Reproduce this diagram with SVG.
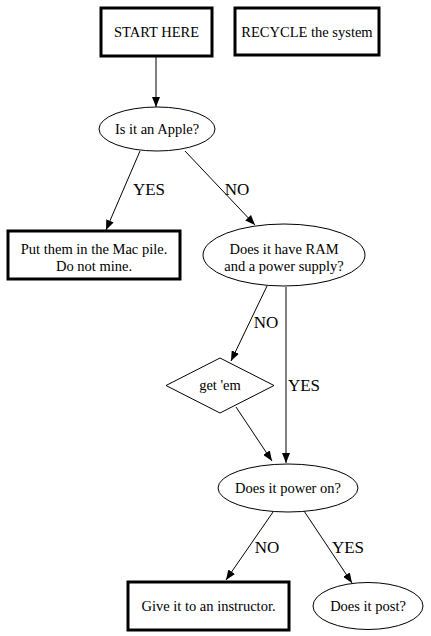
<svg xmlns="http://www.w3.org/2000/svg" width="431" height="636" viewBox="0 0 431 636">
<style>
text{font-family:'Liberation Serif','Times New Roman',serif;fill:#000;text-anchor:middle}
.n{font-size:14.5px}
.l{font-size:17px}
.box{fill:#fff;stroke:#000;stroke-width:3}
.shape{fill:#fff;stroke:#000;stroke-width:1}
.e{fill:none;stroke:#000;stroke-width:1}
</style>
<defs>
<marker id="a" markerWidth="10" markerHeight="8" refX="10" refY="4" orient="auto" markerUnits="userSpaceOnUse">
<path d="M0,0 L10,4 L0,8 Z" fill="#000"/>
</marker>
</defs>
<rect width="431" height="636" fill="#fff"/>
<g id="connectors">
<line class="e" x1="156" y1="57" x2="156" y2="107" marker-end="url(#a)"/>
<line class="e" x1="140" y1="151" x2="106" y2="230" marker-end="url(#a)"/>
<line class="e" x1="185" y1="151" x2="255" y2="225" marker-end="url(#a)"/>
<line class="e" x1="267" y1="286" x2="231" y2="361" marker-end="url(#a)"/>
<line class="e" x1="286" y1="287" x2="286" y2="463" marker-end="url(#a)"/>
<line class="e" x1="236" y1="407" x2="272" y2="461" marker-end="url(#a)"/>
<line class="e" x1="273" y1="512" x2="226" y2="580" marker-end="url(#a)"/>
<line class="e" x1="304" y1="511" x2="352" y2="583" marker-end="url(#a)"/>
<text class="l" x="149" y="195">YES</text>
<text class="l" x="237" y="195">NO</text>
<text class="l" x="266" y="328">NO</text>
<text class="l" x="304" y="391">YES</text>
<text class="l" x="267" y="553">NO</text>
<text class="l" x="348" y="553">YES</text>
</g>
<g id="start">
<rect class="box" x="101" y="8" width="111" height="48"/>
<text class="n" x="156.5" y="37">START HERE</text>
</g>
<g id="recycle">
<rect class="box" x="235" y="8" width="144" height="47"/>
<text class="n" x="307" y="37">RECYCLE the system</text>
</g>
<g id="apple">
<ellipse class="shape" cx="157" cy="129" rx="58" ry="22"/>
<text class="n" x="157" y="134">Is it an Apple?</text>
</g>
<g id="macpile">
<rect class="box" x="8" y="231" width="172" height="48"/>
<text class="n" x="94" y="254">Put them in the Mac pile.</text>
<text class="n" x="94" y="271">Do not mine.</text>
</g>
<g id="ram">
<ellipse class="shape" cx="284" cy="255" rx="81" ry="31"/>
<text class="n" x="284" y="254">Does it have RAM</text>
<text class="n" x="284" y="271">and a power supply?</text>
</g>
<g id="getem">
<polygon class="shape" points="220,358 274,385.5 220,413 166,385.5"/>
<text class="n" x="220" y="390">get 'em</text>
</g>
<g id="poweron">
<ellipse class="shape" cx="288" cy="488" rx="70" ry="24"/>
<text class="n" x="288" y="493">Does it power on?</text>
</g>
<g id="instructor">
<rect class="box" x="128" y="582" width="161" height="48"/>
<text class="n" x="208.5" y="611">Give it to an instructor.</text>
</g>
<g id="post">
<ellipse class="shape" cx="368" cy="606" rx="55" ry="23.5"/>
<text class="n" x="368" y="611">Does it post?</text>
</g>
</svg>
